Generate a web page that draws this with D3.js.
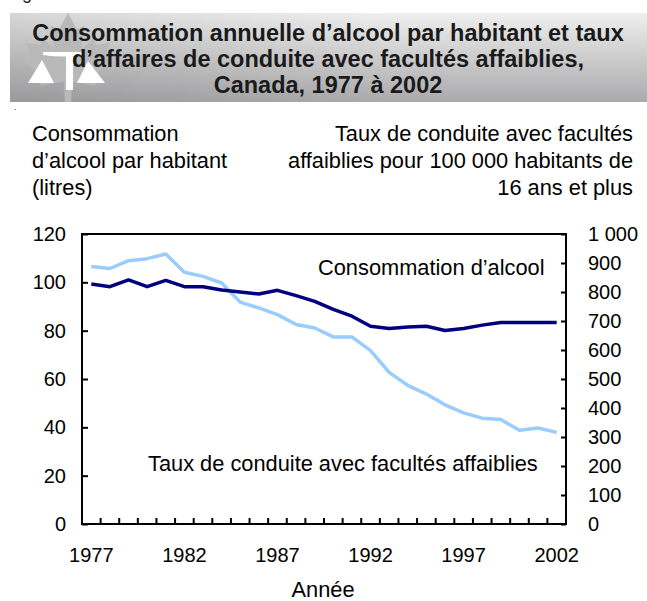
<!DOCTYPE html>
<html lang='fr'>
<head>
<meta charset='utf-8'>
<title>Consommation d'alcool et conduite avec facultés affaiblies</title>
<script src='https://cdn.jsdelivr.net/npm/d3@7/dist/d3.min.js'></script>
<style>
	body { margin: 0; background: #fff; }
	svg { display: block; font-family: 'Liberation Sans', Arial, sans-serif; }
</style>
</head>
<body>
<svg id='svg' width='647' height='601'></svg>
<script>
// donnees
var annees = [1977, 1978, 1979, 1980, 1981, 1982, 1983, 1984, 1985, 1986, 1987, 1988, 1989,
	1990, 1991, 1992, 1993, 1994, 1995, 1996, 1997, 1998, 1999, 2000, 2001, 2002];
var alcool = [99.3, 98.2, 101, 98.2, 100.8, 98.2, 98.2, 96.8, 96, 95.2, 96.7, 94.5, 92.1,
	88.8, 86, 81.8, 80.9, 81.5, 81.8, 80.1, 80.9, 82.3, 83.4, 83.4, 83.4, 83.4];
var conduite = [888, 881, 908, 915, 931, 868, 854, 831, 765, 745, 722, 688, 676,
	645, 645, 598, 523, 478, 448, 411, 383, 365, 360, 323, 331, 316];
var ticksGauche = [0, 20, 40, 60, 80, 100, 120];
var ticksDroite = [0, 100, 200, 300, 400, 500, 600, 700, 800, 900, 1000];
var anneesEtiquettes = [1977, 1982, 1987, 1992, 1997, 2002];

var titre = ['Consommation annuelle d\u2019alcool par habitant et taux',
	'd\u2019affaires de conduite avec facultés affaiblies,',
	'Canada, 1977 à 2002'];
var titreGauche = ['Consommation', 'd\u2019alcool par habitant', '(litres)'];
var titreDroite = ['Taux de conduite avec facultés', 'affaiblies pour 100 000 habitants de', '16 ans et plus'];

var svg = d3.select('#svg');
var mLeft = 82, mRight = 566, mTop = 234, mBottom = 524;
var fs = 21.8, fsTick = 20;

// bandeau du titre
var defs = svg.append('defs');
var grad = defs.append('linearGradient').attr('id', 'bandeau').attr('x1', 0).attr('y1', 0).attr('x2', 0).attr('y2', 1);
grad.append('stop').attr('offset', '0%').attr('stop-color', '#efefef');
grad.append('stop').attr('offset', '100%').attr('stop-color', '#aaaaac');
var ombre = defs.append('linearGradient').attr('id', 'ombre').attr('x1', 0).attr('y1', 0).attr('x2', 1).attr('y2', 0);
ombre.append('stop').attr('offset', '0%').attr('stop-color', '#000').attr('stop-opacity', 0.1);
ombre.append('stop').attr('offset', '60%').attr('stop-color', '#000').attr('stop-opacity', 0);
defs.append('clipPath').attr('id', 'clipBandeau').append('rect')
	.attr('x', 10).attr('y', 13).attr('width', 637).attr('height', 89);

// seul le jambage du « g » depasse en haut
svg.append('text').attr('x', 7).attr('y', -1).attr('font-size', 18).attr('fill', '#222').text('Figure 1');
svg.append('rect').attr('x', 10).attr('y', 13).attr('width', 637).attr('height', 89).attr('fill', 'url(#bandeau)');
svg.append('rect').attr('x', 10).attr('y', 13).attr('width', 637).attr('height', 89).attr('fill', 'url(#ombre)');

var logo = svg.append('g').attr('clip-path', 'url(#clipBandeau)');
var feuille = [[0,-50],[-9,-33],[-17,-37],[-13,-12],[-25,-24],[-28,-17],[-42,-20],[-37,-6],[-45,-1],
	[-25,15],[-28,24],[-4,20],[-3,45],[3,45],[4,20],[28,24],[25,15],[45,-1],[37,-6],[42,-20],
	[28,-17],[25,-24],[13,-12],[17,-37],[9,-33]];
logo.append('path')
	.attr('d', 'M' + feuille.map(p => p.join(',')).join('L') + 'Z')
	.attr('transform', 'translate(68,62) scale(1.0,0.98)')
	.attr('fill', '#b9b9b9');
logo.append('path').attr('d', 'M43,52 L84,52 L84,55 Q64,58 43,55 Z').attr('fill', '#fff');
logo.append('rect').attr('x', 66).attr('y', 55).attr('width', 7).attr('height', 35).attr('fill', '#fff');
logo.append('path').attr('d', 'M42,60 L28,83 L54,83 Z').attr('fill', '#fff');
logo.append('path').attr('d', 'M88,61 L77,83 L105,83 Z').attr('fill', '#fff');

svg.append('g').selectAll('text').data(titre).enter().append('text')
	.attr('x', 328).attr('y', (d, i) => 41 + i * 26)
	.attr('text-anchor', 'middle').attr('font-size', 23.5).attr('font-weight', 'bold').attr('fill', '#1a1a1a')
	.text(d => d);
svg.append('text').attr('x', 14).attr('y', 110).attr('font-size', 9).attr('fill', '#333').text('.');

// titres des axes
svg.append('g').selectAll('text').data(titreGauche).enter().append('text')
	.attr('x', 32).attr('y', (d, i) => 141 + i * 27).attr('font-size', fs).text(d => d);
svg.append('g').selectAll('text').data(titreDroite).enter().append('text')
	.attr('x', 633).attr('y', (d, i) => 141 + i * 27).attr('text-anchor', 'end').attr('font-size', fs).text(d => d);

// echelles
var x = d3.scaleBand().domain(annees).range([mLeft, mRight]).padding(0);
var yG = d3.scaleLinear().domain([0, 120]).range([mBottom, mTop]);
var yD = d3.scaleLinear().domain([0, 1000]).range([mBottom, mTop]);
var fr = d3.formatLocale({ decimal: ',', thousands: '\u00a0', grouping: [3], currency: ['', ''] });

var axeG = svg.append('g').attr('transform', 'translate(' + mLeft + ',0)')
	.call(d3.axisLeft(yG).tickValues(ticksGauche).tickSizeInner(-6).tickSizeOuter(0).tickPadding(16));
var axeD = svg.append('g').attr('transform', 'translate(' + mRight + ',0)')
	.call(d3.axisRight(yD).tickValues(ticksDroite).tickSizeInner(-5).tickSizeOuter(0).tickPadding(22).tickFormat(fr.format(',')));
var axeX = svg.append('g').attr('transform', 'translate(0,' + mBottom + ')')
	.call(d3.axisBottom(x).tickValues(anneesEtiquettes).tickSize(0).tickPadding(24));
[axeG, axeD, axeX].forEach(function(a) {
	a.select('.domain').remove();
	a.selectAll('text').attr('font-size', fsTick).attr('font-family', null).attr('fill', '#000');
	a.selectAll('line').attr('stroke', '#000').attr('stroke-width', 2);
});

// graduations des annees aux limites des categories
svg.append('g').selectAll('line').data(annees.slice(1)).enter().append('line')
	.attr('x1', d => x(d)).attr('x2', d => x(d))
	.attr('y1', mBottom).attr('y2', mBottom - 6)
	.attr('stroke', '#000').attr('stroke-width', 2);

// cadre
svg.append('rect').attr('x', mLeft).attr('y', mTop).attr('width', mRight - mLeft).attr('height', mBottom - mTop)
	.attr('fill', 'none').attr('stroke', '#000').attr('stroke-width', 2);

svg.append('text').attr('x', 323).attr('y', 597).attr('text-anchor', 'middle').attr('font-size', fs).text('Année');

// courbes
var cx = d => x(d) + x.bandwidth() / 2;
svg.append('path').datum(conduite)
	.attr('d', d3.line().x((d, i) => cx(annees[i])).y(d => yD(d)))
	.attr('fill', 'none').attr('stroke', '#99ccff').attr('stroke-width', 3.5).attr('stroke-linejoin', 'round');
svg.append('path').datum(alcool)
	.attr('d', d3.line().x((d, i) => cx(annees[i])).y(d => yG(d)))
	.attr('fill', 'none').attr('stroke', '#000080').attr('stroke-width', 3.5).attr('stroke-linejoin', 'round');

svg.append('text').attr('x', 318).attr('y', 275).attr('font-size', fs).text('Consommation d\u2019alcool');
svg.append('text').attr('x', 148).attr('y', 471).attr('font-size', fs).text('Taux de conduite avec facultés affaiblies');
</script>
</body>
</html>
